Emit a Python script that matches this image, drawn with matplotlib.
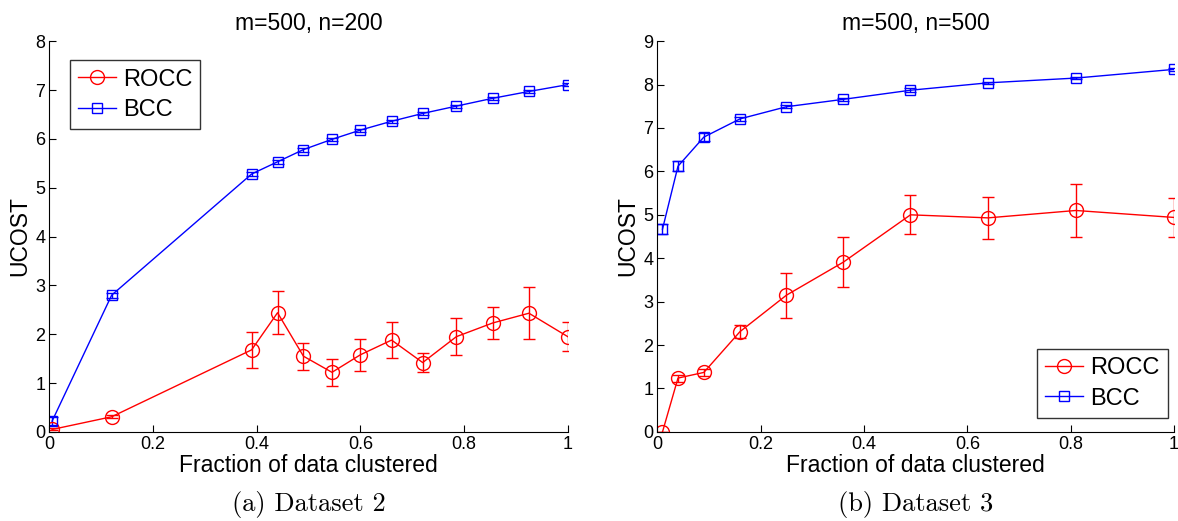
import matplotlib.pyplot as plt

# Dataset 2 (m=500, n=200)
x2 = [0.005, 0.12, 0.39, 0.44, 0.49, 0.545, 0.60, 0.66, 0.72, 0.785, 0.855, 0.925, 1.0]
bcc2 = [0.22, 2.80, 5.28, 5.53, 5.78, 5.99, 6.18, 6.36, 6.52, 6.67, 6.83, 6.97, 7.11]
bcc2_err = [0.08, 0.05, 0.04, 0.04, 0.04, 0.03, 0.03, 0.03, 0.03, 0.03, 0.03, 0.03, 0.03]
rocc2 = [0.05, 0.31, 1.68, 2.44, 1.55, 1.22, 1.58, 1.88, 1.42, 1.95, 2.23, 2.43, 1.95]
rocc2_err = [0.02, 0.03, 0.37, 0.44, 0.28, 0.28, 0.33, 0.37, 0.20, 0.38, 0.32, 0.53, 0.30]

# Dataset 3 (m=500, n=500)
x3 = [0.01, 0.04, 0.09, 0.16, 0.25, 0.36, 0.49, 0.64, 0.81, 1.0]
bcc3 = [4.67, 6.12, 6.79, 7.21, 7.49, 7.66, 7.87, 8.04, 8.15, 8.35]
bcc3_err = [0.12, 0.12, 0.10, 0.05, 0.04, 0.04, 0.04, 0.03, 0.03, 0.03]
rocc3 = [0.0, 1.24, 1.37, 2.31, 3.15, 3.91, 5.00, 4.93, 5.10, 4.94]
rocc3_err = [0.0, 0.08, 0.08, 0.15, 0.52, 0.58, 0.45, 0.48, 0.60, 0.45]

plt.rcParams['font.family'] = ['Liberation Sans', 'DejaVu Sans']

fig = plt.figure(figsize=(11.78, 5.21), dpi=100)
ax1 = fig.add_axes([0.042, 0.171, 0.44, 0.750])
ax2 = fig.add_axes([0.558, 0.171, 0.4386, 0.750])


def draw(ax, x, rocc, rocc_err, bcc, bcc_err, ymax, title, loc, anchor, caption):
    # error bars first, then the lines that go into the legend
    ax.errorbar(x, rocc, yerr=rocc_err, fmt="none", ecolor="red", lw=1, capsize=4.5)
    ax.errorbar(x, bcc, yerr=bcc_err, fmt="none", ecolor="blue", lw=1, capsize=4)
    ax.plot(x, rocc, color="red", marker="o", markersize=10,
            markerfacecolor="none", lw=1, label="ROCC")
    ax.plot(x, bcc, color="blue", marker="s", markersize=6.5,
            markerfacecolor="none", lw=1, label="BCC")
    ax.set_xlim(0, 1)
    ax.set_ylim(0, ymax)
    ax.set_xticks([0, 0.2, 0.4, 0.6, 0.8, 1])
    ax.set_xticklabels(["0", "0.2", "0.4", "0.6", "0.8", "1"])
    ax.set_yticks(range(0, ymax + 1))
    ax.spines["top"].set_visible(False)
    ax.spines["right"].set_visible(False)
    ax.tick_params(direction="in", length=5, labelsize=13, pad=3)
    ax.set_xlabel("Fraction of data clustered", fontsize=16.5, labelpad=1)
    ax.set_ylabel("UCOST", fontsize=16.5, labelpad=3)
    ax.set_title(title, fontsize=16.5, pad=8)
    leg = ax.legend(loc=loc, bbox_to_anchor=anchor, borderaxespad=0,
                    fontsize=17, fancybox=False, edgecolor="black",
                    handlelength=1.6, handletextpad=0.3, borderpad=0.35,
                    labelspacing=0.35)
    leg.get_frame().set_linewidth(1.0)
    ax.text(0.5, -0.187, caption, transform=ax.transAxes, ha="center", va="center",
            fontsize=19, family="cmr10")


draw(ax1, x2, rocc2, rocc2_err, bcc2, bcc2_err, 8, "m=500, n=200",
     "upper left", (0.039, 0.951), "(a) Dataset 2")
draw(ax2, x3, rocc3, rocc3_err, bcc3, bcc3_err, 9, "m=500, n=500",
     "lower right", (0.988, 0.036), "(b) Dataset 3")
for lab in ax2.get_xticklabels():
    lab.set_clip_on(False)

fig.savefig("out.png", dpi=100)
